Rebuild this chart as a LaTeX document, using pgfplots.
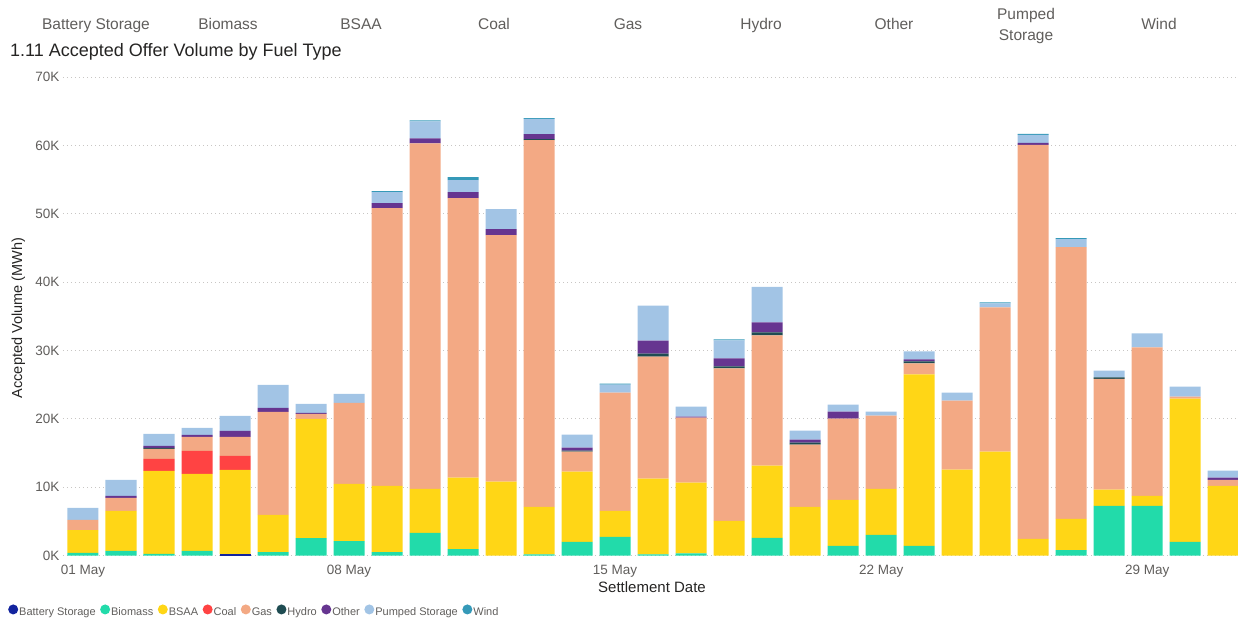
\documentclass[border=0pt]{standalone}
\usepackage{pgfplots}
\pgfplotsset{compat=1.18}
\usepackage{pgfplotstable}
\usepackage{fontspec}
\setmainfont{Liberation Sans}

\definecolor{batcol}{HTML}{12239E}
\definecolor{biocol}{HTML}{22DBAA}
\definecolor{bsaacol}{HTML}{FFD616}
\definecolor{coalcol}{HTML}{FF4343}
\definecolor{gascol}{HTML}{F3A984}
\definecolor{hydrocol}{HTML}{1F4C52}
\definecolor{othercol}{HTML}{663590}
\definecolor{pscol}{HTML}{A2C4E5}
\definecolor{windcol}{HTML}{3599B8}
\definecolor{tickgray}{HTML}{605E5C}
\definecolor{titlecol}{HTML}{252423}
\definecolor{gridcol}{HTML}{C8C6C4}

% accepted offer volume per settlement day (MWh)
\pgfplotstableread{
day bat bio bsaa coal gas hydro other ps wind
1  0   370  3360  0    1470  0   0    1750 0
2  0   660  5860  0    1900  0   290  2340 0
3  0   250  12120 1760 1470  150 290  1760 0
4  0   660  11270 3370 2050  0   290  1030 0
5  150 0    12370 2050 2780  0   880  2190 0
6  0   510  5420  0    15070 0   600  3360 0
7  0   2560 17430 0    730   0   140  1320 0
8  0   2120 8350  0    11860 0   0    1320 0
9  0   500  9700  0    40620 0   730  1620 150
10 0   3300 6450  0    50550 0   730  2470 150
11 0   950  10450 0    40880 0   880  1760 440
12 0   0    10800 0    36060 0   880  2930 0
13 0   150  6950  0    53680 150 730  2200 140
14 0   2000 10260 0    2930  140 440  1910 0
15 0   2730 3810  0    17300 0   0    1160 150
16 0   150  11080 0    17870 440 1900 5130 0
17 0   300  10350 0    9520  0   150  1470 0
18 0   0    5070  0    22290 290 1170 2640 140
19 0   2570 10570 0    19060 430 1470 5200 0
20 0   0    7130  0    9090  290 440  1320 0
21 0   1400 6750  0    11870 0   1030 1030 0
22 0   3000 6760  0    10700 0   0    590  0
23 0   1400 25080 0    1620  290 290  1170 0
24 0   0    12550 0    10110 0   0    1180 0
25 0   0    15190 0    21110 0   0    600  140
26 0   0    2430  0    57630 0   290  1170 150
27 0   800  4560  0    39740 0   0    1170 150
28 0   7270 2350  0    16230 190 0    1020 0
29 0   7270 1470  0    21690 0   0    2060 0
30 0   2000 20950 0    300   0   0    1470 0
31 0   0    10200 0    880   0   300  1020 0
}\datatable

\begin{document}
\begin{tikzpicture}[x=1pt,y=1pt]
\useasboundingbox (0,0) rectangle (1238,621);
\begin{axis}[
    at={(63pt,65.5pt)}, anchor=south west,
    scale only axis, width=1175pt, height=478.5pt,
    xmin=0.474, xmax=31.39, ymin=0, ymax=70000,
    ybar stacked, bar width=0.816,
    axis line style={draw=none}, major tick length=0pt,
    scaled y ticks=false,
    ytick={0,10000,20000,30000,40000,50000,60000,70000},
    yticklabels={0K,10K,20K,30K,40K,50K,60K,70K},
    xtick={1,8,15,22,29},
    xticklabels={01 May,08 May,15 May,22 May,29 May},
    ymajorgrids,
    grid style={draw=gridcol, line width=1pt, dash pattern=on 1pt off 3pt},
    tick label style={font=\fontsize{13.5}{16}\selectfont, text=tickgray},
    xticklabel style={yshift=-6pt},
    every axis plot post/.append style={
        legend image code/.code={\fill[##1] (5pt,3.3pt) circle (5pt);}},
    legend style={at={(-0.0468,-0.118)}, anchor=west, draw=none, fill=none,
        inner sep=0pt, font=\fontsize{11}{13}\selectfont,
        nodes={inner xsep=1pt, text=tickgray},
        /tikz/every even column/.append style={column sep=3.5pt}},
    legend columns=-1,
]
\addplot[fill=batcol, draw=none] table[x=day, y=bat] {\datatable};
\addplot[fill=biocol, draw=none] table[x=day, y=bio] {\datatable};
\addplot[fill=bsaacol, draw=none] table[x=day, y=bsaa] {\datatable};
\addplot[fill=coalcol, draw=none] table[x=day, y=coal] {\datatable};
\addplot[fill=gascol, draw=none] table[x=day, y=gas] {\datatable};
\addplot[fill=hydrocol, draw=none] table[x=day, y=hydro] {\datatable};
\addplot[fill=othercol, draw=none] table[x=day, y=other] {\datatable};
\addplot[fill=pscol, draw=none] table[x=day, y=ps] {\datatable};
\addplot[fill=windcol, draw=none] table[x=day, y=wind] {\datatable};
\legend{Battery Storage, Biomass, BSAA, Coal, Gas, Hydro, Other, Pumped Storage, Wind}
\end{axis}

% slicer header
\begin{scope}[every node/.style={font=\fontsize{15.5}{18}\selectfont, text=tickgray, anchor=base, inner sep=0pt}]
\node at (96,591.5) {Battery Storage};
\node at (228,591.5) {Biomass};
\node at (361,591.5) {BSAA};
\node at (494,591.5) {Coal};
\node at (628,591.5) {Gas};
\node at (761,591.5) {Hydro};
\node at (894,591.5) {Other};
\node at (1026,601.5) {Pumped};
\node at (1026,580.5) {Storage};
\node at (1159,591.5) {Wind};
\end{scope}

\node[anchor=base west, inner sep=0pt, font=\fontsize{18}{22}\selectfont, text=titlecol] at (10,564) {1.11 Accepted Offer Volume by Fuel Type};
\node[rotate=90, inner sep=0pt, font=\fontsize{14.5}{17}\selectfont, text=titlecol] at (18.5,303) {Accepted Volume (MWh)};
\node[anchor=base, inner sep=0pt, font=\fontsize{15}{18}\selectfont, text=titlecol] at (652,28.6) {Settlement Date};
\end{tikzpicture}
\end{document}
